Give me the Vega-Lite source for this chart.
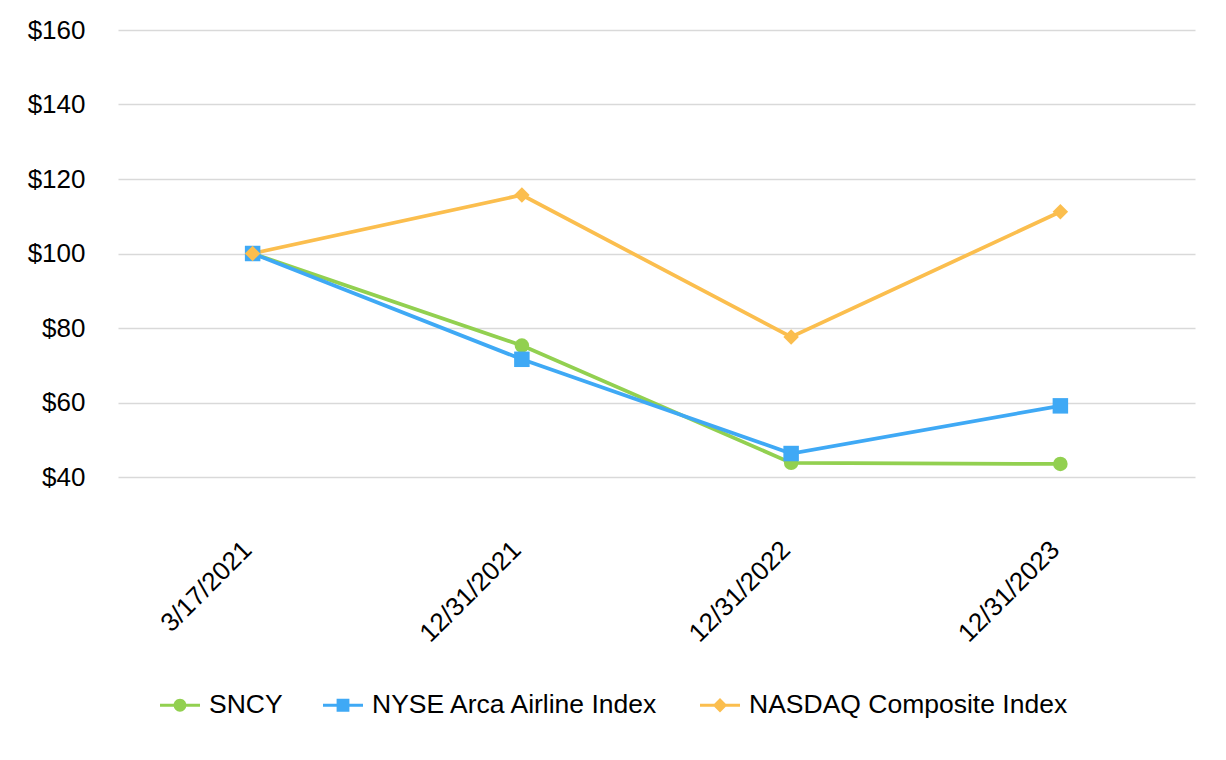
{
  "$schema": "https://vega.github.io/schema/vega-lite/v6.json",
  "width": 1077,
  "height": 447,
  "autosize": {"type": "none"},
  "padding": {"left": 118, "top": 30, "right": 31, "bottom": 283},
  "background": "white",
  "config": {
    "font": "Liberation Sans",
    "view": {"stroke": null}
  },
  "data": {
    "values": [
      {"date": "3/17/2021", "series": "SNCY", "value": 100},
      {"date": "12/31/2021", "series": "SNCY", "value": 75.3},
      {"date": "12/31/2022", "series": "SNCY", "value": 43.8},
      {"date": "12/31/2023", "series": "SNCY", "value": 43.5},
      {"date": "3/17/2021", "series": "NYSE Arca Airline Index", "value": 100},
      {"date": "12/31/2021", "series": "NYSE Arca Airline Index", "value": 71.6},
      {"date": "12/31/2022", "series": "NYSE Arca Airline Index", "value": 46.3},
      {"date": "12/31/2023", "series": "NYSE Arca Airline Index", "value": 59.1},
      {"date": "3/17/2021", "series": "NASDAQ Composite Index", "value": 100},
      {"date": "12/31/2021", "series": "NASDAQ Composite Index", "value": 115.7},
      {"date": "12/31/2022", "series": "NASDAQ Composite Index", "value": 77.6},
      {"date": "12/31/2023", "series": "NASDAQ Composite Index", "value": 111.2}
    ]
  },
  "encoding": {
    "x": {
      "field": "date",
      "type": "ordinal",
      "sort": ["3/17/2021", "12/31/2021", "12/31/2022", "12/31/2023"],
      "scale": {"type": "point", "padding": 0.5},
      "axis": {"title": null, "labelAngle": -45, "labelAlign": "right", "labelBaseline": "alphabetic", "labelPadding": 74, "labelFontSize": 26, "labelColor": "#000000", "labelFont": "Liberation Sans", "ticks": false, "domain": false, "grid": false}
    },
    "y": {
      "field": "value",
      "type": "quantitative",
      "scale": {"domain": [40, 160], "nice": false, "zero": false},
      "axis": {"title": null, "values": [40, 60, 80, 100, 120, 140, 160], "format": "$,.0f", "labelPadding": 33, "labelFontSize": 26, "labelColor": "#000000", "labelFont": "Liberation Sans", "ticks": false, "domain": false, "gridColor": "#D9D9D9", "gridWidth": 1.5}
    },
    "color": {
      "field": "series",
      "type": "nominal",
      "scale": {"domain": ["SNCY", "NYSE Arca Airline Index", "NASDAQ Composite Index"], "range": ["#92D050", "#3FA9F5", "#FBBE4E"]},
      "legend": {
        "title": null,
        "orient": "none",
        "direction": "horizontal",
        "legendX": 42,
        "legendY": 655,
        "symbolSize": 1600,
        "symbolStrokeWidth": 0,
        "symbolOpacity": 1,
        "labelFontSize": 26.5,
        "labelFont": "Liberation Sans",
        "labelColor": "#000000",
        "labelLimit": 0,
        "labelOffset": 9,
        "columnPadding": 40,
        "encode": {
          "symbols": {
            "update": {
              "shape": {"signal": "datum.value === 'SNCY' ? 'M-1,-0.075H1V0.075H-1ZM-0.32,0A0.32,0.32 0 1,1 0.32,0A0.32,0.32 0 1,1 -0.32,0Z' : datum.value === 'NYSE Arca Airline Index' ? 'M-1,-0.075H1V0.075H-1ZM-0.32,-0.32H0.32V0.32H-0.32Z' : 'M-1,-0.075H1V0.075H-1ZM0,-0.36L0.36,0L0,0.36L-0.36,0Z'"},
              "fill": {"signal": "scale('color', datum.value)"},
              "stroke": {"value": "transparent"},
              "strokeWidth": {"value": 0},
              "opacity": {"value": 1}
            }
          }
        }
      }
    }
  },
  "layer": [
    {
      "mark": {"type": "line", "strokeWidth": 3.75}
    },
    {
      "transform": [{"filter": "datum.series === 'SNCY'"}],
      "mark": {"type": "point", "shape": "circle", "filled": true, "size": 210, "opacity": 1}
    },
    {
      "transform": [{"filter": "datum.series === 'NYSE Arca Airline Index'"}],
      "mark": {"type": "point", "shape": "square", "filled": true, "size": 240, "opacity": 1}
    },
    {
      "transform": [{"filter": "datum.series === 'NASDAQ Composite Index'"}],
      "mark": {"type": "point", "shape": "diamond", "filled": true, "size": 240, "opacity": 1}
    }
  ]
}
